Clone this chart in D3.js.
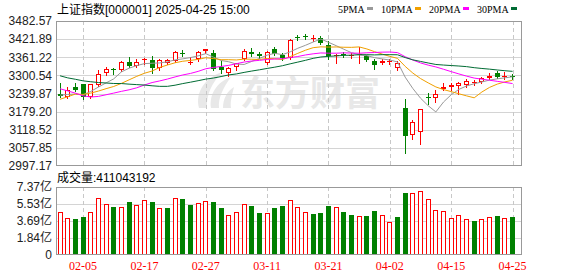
<!DOCTYPE html>
<html>
<head>
<meta charset="utf-8">
<script src="https://cdn.jsdelivr.net/npm/d3@7"></script>
<style>
body { margin: 0; background: #fff; }
svg { display: block; }
</style>
</head>
<body>
<div id="chart"></div>
<script>
// trading days shown (2025)
var dates = ["01-23","01-24","01-27","02-05","02-06","02-07","02-10","02-11","02-12","02-13","02-14","02-17","02-18","02-19","02-20","02-21","02-24","02-25","02-26","02-27","02-28",
  "03-03","03-04","03-05","03-06","03-07","03-10","03-11","03-12","03-13","03-14","03-17","03-18","03-19","03-20","03-21","03-24","03-25","03-26","03-27","03-28","03-31",
  "04-01","04-02","04-03","04-07","04-08","04-09","04-10","04-11","04-14","04-15","04-16","04-17","04-18","04-21","04-22","04-23","04-24","04-25"];

var open = [3238,3228,3260,3270,3229,3267,3309,3322,3318,3344,3332,3355,3352,3324,3343,3350,3377,3344,3354,3381,3376,
  3329,3308,3327,3356,3378,3372,3341,3390,3370,3360,3430,3433,3424,3427,3402,3368,3371,3365,3370,3366,3347,
  3342,3345,3324,3193,3100,3112,3228,3224,3256,3262,3266,3268,3274,3280,3292,3310,3294,3299];
var high = [3274,3260,3274,3272,3272,3318,3330,3326,3348,3362,3354,3358,3366,3356,3357,3383,3386,3363,3383,3390,3385,
  3350,3327,3343,3388,3393,3380,3383,3397,3375,3422,3436,3440,3436,3433,3415,3372,3380,3376,3395,3368,3356,
  3357,3357,3350,3220,3150,3188,3243,3250,3276,3275,3280,3288,3284,3294,3310,3316,3312,3305];
var low = [3228,3224,3248,3222,3225,3264,3303,3304,3316,3330,3327,3340,3310,3320,3340,3346,3365,3338,3350,3374,3318,
  3308,3300,3318,3353,3366,3360,3338,3370,3352,3356,3418,3422,3416,3406,3355,3341,3362,3360,3343,3348,3322,
  3340,3340,3320,3040.69,3088,3070,3205,3212,3250,3252,3238,3262,3267,3276,3288,3292,3287,3289];
var close = [3230.16,3252.63,3250.60,3229.49,3270.66,3303.67,3322.17,3318.06,3346.39,3332.48,3346.72,3355.83,3324.49,3351.54,3350.78,3379.11,3373.03,3346.04,3380.21,3388.06,3320.90,
  3316.93,3324.21,3341.96,3381.10,3372.55,3366.16,3379.83,3371.92,3358.73,3419.56,3426.43,3429.76,3426.43,3408.95,3364.83,3370.03,3369.98,3368.70,3373.75,3351.31,3335.75,
  3348.44,3350.13,3342.01,3096.58,3145.55,3186.81,3223.64,3238.23,3262.81,3267.66,3276.00,3280.34,3276.73,3291.43,3299.76,3296.36,3297.29,3295.06];
// closes before the window (2024-12-10 .. 2025-01-22), needed for the moving averages
var earlierCloses = [3422.66,3432.49,3461.50,3391.88,3386.33,3361.49,3382.21,3370.03,3368.07,3351.26,3393.53,3393.35,3398.08,3400.14,3407.33,3351.76,
  3262.56,3211.43,3206.92,3229.64,3230.17,3211.39,3168.52,3160.76,3240.94,3227.12,3236.03,3241.82,3244.38,3242.62,3213.62];
// volume, 亿
var volume = [4.63,3.98,3.90,4.12,4.63,6.14,5.49,5.20,5.17,5.75,5.39,5.93,5.75,5.06,5.09,6.14,6.07,5.42,5.60,5.82,5.75,
  5.09,4.30,4.63,5.49,5.31,4.55,4.52,5.09,5.31,5.96,5.17,4.63,4.44,4.55,5.31,5.17,4.66,4.34,4.19,4.23,4.77,
  4.30,3.54,4.12,6.72,6.69,6.91,6.07,4.88,4.74,4.01,4.30,3.90,3.69,3.90,4.09,4.23,4.01,4.11];

var priceTicks = [2997.17,3057.85,3118.52,3179.20,3239.87,3300.54,3361.22,3421.89,3482.57];
var volTicks = [0,1.84,3.69,5.53,7.37];
var dateTicks = ["02-05","02-17","02-27","03-11","03-21","04-02","04-15","04-25"];
var maPeriods = [5,10,20,30];
var maLabels = ["5PMA","10PMA","20PMA","30PMA"];
var titleText = "上证指数[000001] 2025-04-25 15:00";
var lastVolume = "411043192";

var maColors = ["#999999","#f0a000","#ff00ff","#006b33"];
var upColor = "#ff0000", downColor = "#008000";

var width = 578, height = 276;
var left = 56, right = 522;
var pTop = 21, pBot = 166, vTop = 187, vBot = 255;

var svg = d3.select("#chart").append("svg")
    .attr("width", width)
    .attr("height", height);

var x = d3.scaleBand().domain(dates).range([56.2, 516.4]);
var bw = x.bandwidth();
var y = d3.scaleLinear().domain([2997.17, 3482.57]).range([pBot, pTop]);
var yv = d3.scaleLinear().domain([0, 7.37]).range([vBot, vTop]);

function cx(d) { return x(d) + bw / 2; }
function px(d) { return Math.round(cx(d) - 2.5); }

// watermark
var wm = svg.append("g").attr("fill", "#e8e8e8");
wm.append("path").attr("d", "M199,108 C195,92 205,78 222,72 C212,83 206,95 207,108 Z");
wm.append("path").attr("d", "M211,108 C209,94 217,82 231,77 C223,88 218,98 219,108 Z");
wm.append("path").attr("d", "M223,108 C223,99 227,91 234,87 C232,95 230,102 231,108 Z");
wm.append("text")
    .attr("x", 240).attr("y", 106)
    .style("font-family", "'Noto Sans CJK SC'")
    .style("font-weight", "bold")
    .style("font-size", "35px")
    .text("东方财富");

// grid
var grid = svg.append("g").attr("shape-rendering", "crispEdges");
grid.selectAll(".hp").data(priceTicks.slice(1, -1)).enter().append("line")
    .attr("x1", left).attr("x2", right)
    .attr("y1", d => Math.round(y(d)) + 0.5).attr("y2", d => Math.round(y(d)) + 0.5)
    .attr("stroke", "#d4d4d4");
grid.selectAll(".hv").data(volTicks.slice(1, -1)).enter().append("line")
    .attr("x1", left).attr("x2", right)
    .attr("y1", d => Math.round(yv(d)) + 0.5).attr("y2", d => Math.round(yv(d)) + 0.5)
    .attr("stroke", "#d4d4d4");
[[pTop, pBot], [vTop, vBot]].forEach(function(r) {
    grid.selectAll(null).data(dateTicks).enter().append("line")
        .attr("x1", d => Math.round(cx(d)) + 0.5).attr("x2", d => Math.round(cx(d)) + 0.5)
        .attr("y1", r[0]).attr("y2", r[1])
        .attr("stroke", "#c8c8c8")
        .attr("stroke-dasharray", "4,3");
});

// candles
var candles = svg.append("g").attr("shape-rendering", "crispEdges");
dates.forEach(function(d, i) {
    var up = close[i] >= open[i];
    var col = up ? upColor : downColor;
    var l = px(d);
    var top = Math.round(y(Math.max(open[i], close[i])));
    var bot = Math.round(y(Math.min(open[i], close[i])));
    candles.append("line")
        .attr("x1", l + 2.5).attr("x2", l + 2.5)
        .attr("y1", Math.round(y(high[i]))).attr("y2", Math.round(y(low[i])) + 1)
        .attr("stroke", col);
    if (bot - top < 2) {
        candles.append("line")
            .attr("x1", l).attr("x2", l + 5)
            .attr("y1", top + 0.5).attr("y2", top + 0.5)
            .attr("stroke", col);
    } else if (up) {
        candles.append("rect")
            .attr("x", l + 0.5).attr("y", top + 0.5)
            .attr("width", 4).attr("height", bot - top - 1)
            .attr("fill", "#fff").attr("stroke", col);
    } else {
        candles.append("rect")
            .attr("x", l).attr("y", top)
            .attr("width", 5).attr("height", bot - top)
            .attr("fill", col);
    }
});

// moving averages
var allCloses = earlierCloses.concat(close);
var offset = earlierCloses.length;
var line = d3.line().x((v, i) => cx(dates[i])).y(v => y(v));
maPeriods.forEach(function(p, k) {
    var ma = close.map(function(c, i) {
        return d3.mean(allCloses.slice(offset + i - p + 1, offset + i + 1));
    });
    svg.append("path")
        .datum(ma)
        .attr("d", line)
        .attr("fill", "none")
        .attr("stroke", maColors[k])
        .attr("stroke-width", 1);
});

// volume bars
var bars = svg.append("g").attr("shape-rendering", "crispEdges");
dates.forEach(function(d, i) {
    var prev = i > 0 ? close[i - 1] : earlierCloses[earlierCloses.length - 1];
    var up = close[i] >= prev;
    var l = px(d);
    var top = Math.round(yv(volume[i]));
    if (up) {
        bars.append("rect")
            .attr("x", l + 0.5).attr("y", top + 0.5)
            .attr("width", 4).attr("height", vBot - top - 1)
            .attr("fill", "#fff").attr("stroke", upColor);
    } else {
        bars.append("rect")
            .attr("x", l).attr("y", top)
            .attr("width", 5).attr("height", vBot - top)
            .attr("fill", downColor);
    }
});

// frames
[[pTop, pBot], [vTop, vBot]].forEach(function(r) {
    svg.append("rect")
        .attr("x", left + 0.5).attr("y", r[0] + 0.5)
        .attr("width", right - left - 1).attr("height", r[1] - r[0] - 1)
        .attr("fill", "none")
        .attr("stroke", "#999")
        .attr("shape-rendering", "crispEdges");
});

// axes
var font = "'Liberation Sans', 'Noto Sans CJK SC', sans-serif";
var yAxis = svg.append("g")
    .attr("transform", "translate(" + left + ",0)")
    .call(d3.axisLeft(y).tickValues(priceTicks).tickSize(0).tickPadding(4).tickFormat(d3.format(".2f")));
var vAxis = svg.append("g")
    .attr("transform", "translate(" + left + ",0)")
    .call(d3.axisLeft(yv).tickValues(volTicks).tickSize(0).tickPadding(4)
        .tickFormat(d => d === 0 ? "0" : d.toFixed(2) + "亿"));
[yAxis, vAxis].forEach(function(g) {
    g.select(".domain").remove();
    g.selectAll("text").style("font-family", font).style("font-size", "12px").attr("fill", "#222");
});

var xAxis = svg.append("g")
    .attr("transform", "translate(0," + vBot + ")")
    .call(d3.axisBottom(x).tickValues(dateTicks).tickSize(0).tickPadding(6));
xAxis.select(".domain").remove();
xAxis.selectAll("text")
    .style("font-family", "'Liberation Serif', serif")
    .style("font-size", "12px")
    .attr("fill", upColor);

// title, volume caption
svg.append("text")
    .attr("x", 57).attr("y", 13.5)
    .style("font-family", font).style("font-size", "12px")
    .attr("fill", "#000")
    .text(titleText);
svg.append("text")
    .attr("x", 57).attr("y", 181.5)
    .style("font-family", font).style("font-size", "12px")
    .attr("fill", "#000")
    .text("成交量:" + lastVolume);

// legend
var lx = 338;
maLabels.forEach(function(lab, k) {
    var t = svg.append("text")
        .attr("x", lx).attr("y", 13)
        .style("font-family", "'Liberation Serif', serif")
        .style("font-size", "10px")
        .attr("fill", "#000")
        .text(lab);
    var w = t.node().getComputedTextLength();
    svg.append("rect")
        .attr("x", Math.round(lx + w + 2)).attr("y", 7)
        .attr("width", 6).attr("height", 3)
        .attr("fill", maColors[k]);
    lx = Math.round(lx + w + 2) + 6 + 8;
});
</script>
</body>
</html>
